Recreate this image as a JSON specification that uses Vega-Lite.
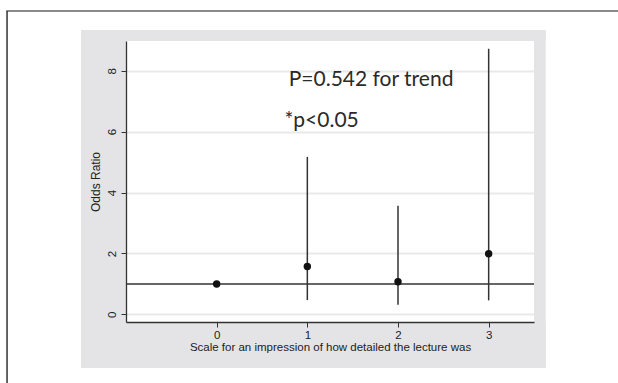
{
  "$schema": "https://vega.github.io/schema/vega-lite/v6.json",
  "width": 408,
  "height": 281,
  "autosize": {"type": "none"},
  "padding": {"left": 126, "top": 41, "right": 84, "bottom": 61},
  "background": "white",
  "config": {"view": {"stroke": null, "fill": "white"}},
  "datasets": {
    "or": [
      {"score": 0, "or": 1.0, "lo": null, "hi": null},
      {"score": 1, "or": 1.57, "lo": 0.47, "hi": 5.17},
      {"score": 2, "or": 1.07, "lo": 0.32, "hi": 3.57},
      {"score": 3, "or": 1.99, "lo": 0.46, "hi": 8.72}
    ],
    "notes": [
      {"x": 0.795, "y": 7.5, "label": "P=0.542 for trend"},
      {"x": 0.747, "y": 6.14, "label": "*p<0.05"}
    ]
  },
  "layer": [
    {
      "data": {"values": [{}]},
      "mark": {"type": "rect", "color": "#e4e4e6"},
      "encoding": {
        "x": {"datum": -1.496, "type": "quantitative", "axis": null},
        "x2": {"datum": -1.0},
        "y": {"datum": -1.76, "type": "quantitative", "axis": null},
        "y2": {"datum": 9.336}
      }
    },
    {
      "data": {"values": [{}]},
      "mark": {"type": "rect", "color": "#e4e4e6"},
      "encoding": {
        "x": {"datum": 3.5, "type": "quantitative", "axis": null},
        "x2": {"datum": 3.629},
        "y": {"datum": -1.76, "type": "quantitative", "axis": null},
        "y2": {"datum": 9.336}
      }
    },
    {
      "data": {"values": [{}]},
      "mark": {"type": "rect", "color": "#e4e4e6"},
      "encoding": {
        "x": {"datum": -1.496, "type": "quantitative", "axis": null},
        "x2": {"datum": 3.629},
        "y": {"datum": 8.975, "type": "quantitative", "axis": null},
        "y2": {"datum": 9.336}
      }
    },
    {
      "data": {"values": [{}]},
      "mark": {"type": "rect", "color": "#e4e4e6"},
      "encoding": {
        "x": {"datum": -1.496, "type": "quantitative", "axis": null},
        "x2": {"datum": 3.629},
        "y": {"datum": -1.76, "type": "quantitative", "axis": null},
        "y2": {"datum": -0.25}
      }
    },
    {
      "data": {"values": [{}]},
      "mark": {"type": "rule", "color": "#8a8a8a", "strokeWidth": 2},
      "encoding": {
        "x": {"datum": -2.32, "type": "quantitative", "axis": null},
        "x2": {"datum": 4.6},
        "y": {"datum": 9.96, "type": "quantitative", "axis": null}
      }
    },
    {
      "data": {"values": [{}]},
      "mark": {"type": "rule", "color": "#333333", "strokeWidth": 1.5},
      "encoding": {
        "x": {"datum": -2.312, "type": "quantitative", "axis": null},
        "y": {"datum": 9.96, "type": "quantitative", "axis": null},
        "y2": {"datum": -2.5}
      }
    },
    {
      "data": {"values": [{}]},
      "mark": {"type": "rule", "color": "#333333", "strokeWidth": 1.5},
      "encoding": {
        "y": {
          "datum": 1,
          "type": "quantitative",
          "axis": {
            "orient": "left",
            "grid": true,
            "gridColor": "#e9e9e9",
            "gridWidth": 2,
            "values": [0, 2, 4, 6, 8],
            "domain": false,
            "ticks": false,
            "labels": false,
            "title": null,
            "zindex": 0
          }
        }
      }
    },
    {
      "data": {"name": "or"},
      "mark": {"type": "rule", "color": "#333333", "strokeWidth": 1.5},
      "encoding": {
        "x": {
          "field": "score",
          "type": "quantitative",
          "scale": {"domain": [-1, 3.5], "nice": false, "zero": false},
          "axis": {
            "orient": "bottom",
            "title": "Scale for an impression of how detailed the lecture was",
            "values": [0, 1, 2, 3],
            "grid": false,
            "labelAngle": 0,
            "labelFont": "Liberation Sans",
            "labelFontSize": 11.5,
            "labelColor": "#222222",
            "labelPadding": 2,
            "tickSize": 5,
            "tickColor": "#333333",
            "domainColor": "#333333",
            "domainWidth": 1.3,
            "titleFont": "Liberation Sans",
            "titleFontSize": 11.5,
            "titleFontWeight": "normal",
            "titleColor": "#222222",
            "titlePadding": 1,
            "zindex": 1
          }
        },
        "y": {
          "field": "lo",
          "type": "quantitative",
          "scale": {"domain": [-0.25, 8.975], "nice": false, "zero": false},
          "axis": {
            "orient": "left",
            "title": "Odds Ratio",
            "values": [0, 2, 4, 6, 8],
            "grid": false,
            "labelAngle": -90,
            "labelAlign": "center",
            "labelBaseline": "bottom",
            "labelFont": "Liberation Sans",
            "labelFontSize": 11.5,
            "labelColor": "#222222",
            "labelPadding": 4,
            "tickSize": 5,
            "tickColor": "#333333",
            "domainColor": "#333333",
            "domainWidth": 1.3,
            "titleFont": "Liberation Sans",
            "titleFontSize": 12,
            "titleFontWeight": "normal",
            "titleColor": "#222222",
            "titlePadding": 4,
            "zindex": 1
          }
        },
        "y2": {"field": "hi"}
      }
    },
    {
      "data": {"name": "or"},
      "mark": {"type": "point", "filled": true, "color": "#111111", "size": 55, "opacity": 1},
      "encoding": {
        "x": {"field": "score", "type": "quantitative", "axis": null},
        "y": {"field": "or", "type": "quantitative", "axis": null}
      }
    },
    {
      "data": {"name": "notes"},
      "mark": {"type": "text", "font": "Lato", "fontSize": 21, "color": "#2a2a2a", "align": "left", "baseline": "alphabetic"},
      "encoding": {
        "x": {"field": "x", "type": "quantitative", "axis": null},
        "y": {"field": "y", "type": "quantitative", "axis": null},
        "text": {"field": "label"}
      }
    }
  ],
  "resolve": {"axis": {"x": "independent", "y": "independent"}}
}
